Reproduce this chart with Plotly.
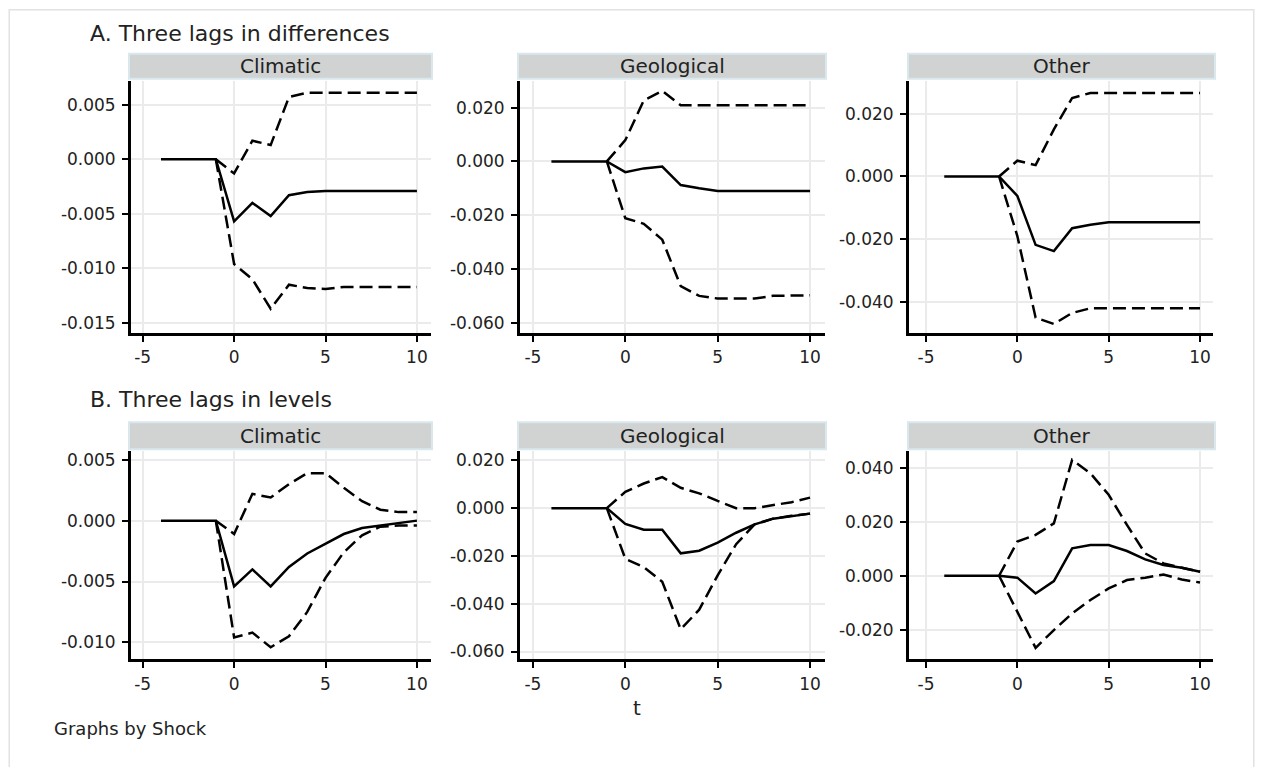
import plotly.graph_objects as go

# The page body adds an 8px margin, so the figure is slightly smaller than the window
OFF = 8
W, H = 1263 - 2 * OFF, 775 - 2 * OFF

# ---------------- data ----------------
t = [-4, -3, -2, -1, 0, 1, 2, 3, 4, 5, 6, 7, 8, 9, 10]
N = None

# Panel A: three lags in differences
a_clim_est = [0, 0, 0, 0, -0.0057, -0.0040, -0.0052, -0.0033, -0.0030, -0.0029, -0.0029, -0.0029, -0.0029, -0.0029, -0.0029]
a_clim_up = [N, N, N, 0, -0.0013, 0.0017, 0.0013, 0.0057, 0.0061, 0.0061, 0.0061, 0.0061, 0.0061, 0.0061, 0.0061]
a_clim_lo = [N, N, N, 0, -0.0096, -0.0110, -0.0137, -0.0115, -0.0118, -0.0119, -0.0117, -0.0117, -0.0117, -0.0117, -0.0117]

a_geo_est = [0, 0, 0, 0, -0.0040, -0.0026, -0.0019, -0.0088, -0.0100, -0.0110, -0.0110, -0.0110, -0.0110, -0.0110, -0.0110]
a_geo_up = [N, N, N, 0, 0.0079, 0.0227, 0.0262, 0.0209, 0.0209, 0.0209, 0.0209, 0.0209, 0.0209, 0.0209, 0.0209]
a_geo_lo = [N, N, N, 0, -0.0211, -0.0232, -0.0291, -0.0464, -0.0500, -0.0510, -0.0510, -0.0510, -0.0500, -0.0498, -0.0498]

a_oth_est = [0, 0, 0, 0, -0.0062, -0.0218, -0.0238, -0.0165, -0.0154, -0.0146, -0.0146, -0.0146, -0.0146, -0.0146, -0.0146]
a_oth_up = [N, N, N, 0, 0.0050, 0.0036, 0.0150, 0.0250, 0.0266, 0.0266, 0.0266, 0.0266, 0.0266, 0.0266, 0.0266]
a_oth_lo = [N, N, N, 0, -0.0190, -0.0450, -0.0470, -0.0435, -0.0420, -0.0420, -0.0420, -0.0420, -0.0420, -0.0420, -0.0420]

# Panel B: three lags in levels
b_clim_est = [0, 0, 0, 0, -0.0054, -0.0040, -0.0054, -0.0038, -0.0027, -0.0019, -0.0011, -0.0006, -0.0004, -0.0002, 0.0]
b_clim_up = [N, N, N, 0, -0.0011, 0.0022, 0.0019, 0.0030, 0.0039, 0.0039, 0.0027, 0.0016, 0.0009, 0.0007, 0.0007]
b_clim_lo = [N, N, N, 0, -0.0096, -0.0092, -0.0104, -0.0095, -0.0075, -0.0047, -0.0026, -0.0012, -0.0005, -0.0004, -0.0004]

b_geo_est = [0, 0, 0, 0, -0.0066, -0.0090, -0.0090, -0.0189, -0.0178, -0.0144, -0.0103, -0.0068, -0.0044, -0.0032, -0.0023]
b_geo_up = [N, N, N, 0, 0.0068, 0.0103, 0.0130, 0.0085, 0.0062, 0.0030, 0.0000, 0.0000, 0.0011, 0.0025, 0.0044]
b_geo_lo = [N, N, N, 0, -0.0212, -0.0247, -0.0308, -0.0507, -0.0425, -0.0281, -0.0151, -0.0068, -0.0044, -0.0032, -0.0023]

b_oth_est = [0, 0, 0, 0, -0.0007, -0.0066, -0.0020, 0.0102, 0.0114, 0.0114, 0.0092, 0.0061, 0.0040, 0.0030, 0.0015]
b_oth_up = [N, N, N, 0, 0.0127, 0.0152, 0.0195, 0.0431, 0.0381, 0.0301, 0.0189, 0.0083, 0.0046, 0.0030, 0.0015]
b_oth_lo = [N, N, N, 0, -0.0134, -0.0268, -0.0202, -0.0140, -0.0090, -0.0047, -0.0016, -0.0007, 0.0005, -0.0014, -0.0025]

shocks = ["Climatic", "Geological", "Other"]
row_titles = ["A. Three lags in differences", "B. Three lags in levels"]

x_ticks = [-5, 0, 5, 10]
y_ticks = [
    [0.005, 0.0, -0.005, -0.010, -0.015],
    [0.020, 0.0, -0.020, -0.040, -0.060],
    [0.020, 0.0, -0.020, -0.040],
    [0.005, 0.0, -0.005, -0.010],
    [0.020, 0.0, -0.020, -0.040, -0.060],
    [0.040, 0.020, 0.0, -0.020],
]

panels = [
    (a_clim_est, a_clim_up, a_clim_lo),
    (a_geo_est, a_geo_up, a_geo_lo),
    (a_oth_est, a_oth_up, a_oth_lo),
    (b_clim_est, b_clim_up, b_clim_lo),
    (b_geo_est, b_geo_up, b_geo_lo),
    (b_oth_est, b_oth_up, b_oth_lo),
]

# ---------------- layout geometry (window pixels) ----------------
col_px = [(131, 431), (520, 825), (909, 1213)]
strip_px = [(129, 432), (518, 826), (908, 1215)]
row_px = [(80, 333), (452, 661)]
strip_row_px = [(53, 78), (423, 450)]
x_ranges = [(-5.64, 10.77), (-5.70, 10.81), (-5.93, 10.71)]
y_ranges = [
    (-0.0159, 0.0072), (-0.0637, 0.0300), (-0.0498, 0.0305),
    (-0.0114, 0.0057), (-0.0633, 0.0238), (-0.0311, 0.0463),
]

def px_x(p):
    return (p - OFF) / W

def px_y(p):
    return 1 - (p - OFF) / H

FONT = "DejaVu Sans"
TXT = "#222222"

fig = go.Figure()
shapes = []
annotations = []

for i, (est, up, lo) in enumerate(panels):
    r, c = divmod(i, 3)
    k = i + 1
    xa = "x" if k == 1 else f"x{k}"
    ya = "y" if k == 1 else f"y{k}"
    for series, dash in ((up, "13px,6px"), (lo, "13px,6px"), (est, "solid")):
        fig.add_trace(go.Scatter(
            x=t, y=series, mode="lines", xaxis=xa, yaxis=ya,
            line=dict(color="black", width=2.5, dash=dash),
            showlegend=False, hoverinfo="skip", connectgaps=False,
        ))
    xd = [px_x(col_px[c][0]), px_x(col_px[c][1])]
    yd = [px_y(row_px[r][1]), px_y(row_px[r][0])]
    common = dict(
        showline=True, linecolor="black", linewidth=2.8,
        ticks="outside", ticklen=6, tickwidth=2.2, tickcolor="black",
        showgrid=True, gridcolor="#ebebeb", gridwidth=2.4,
        zeroline=False, tickfont=dict(family=FONT, size=17, color=TXT),
    )
    fig.layout[("xaxis" if k == 1 else f"xaxis{k}")] = dict(
        domain=xd, anchor=ya, range=list(x_ranges[c]),
        tickvals=x_ticks, ticktext=[str(v) for v in x_ticks],
        ticklabelstandoff=1, **common,
    )
    yt = y_ticks[i]
    fig.layout[("yaxis" if k == 1 else f"yaxis{k}")] = dict(
        domain=yd, anchor=xa, range=list(y_ranges[i]),
        tickvals=yt, ticktext=[f"{v:.3f}" if v != 0 else "0.000" for v in yt],
        ticklabelstandoff=3, **common,
    )
    # strip header
    sx0, sx1 = strip_px[c]
    sy0, sy1 = strip_row_px[r]
    shapes.append(dict(
        type="rect", xref="paper", yref="paper",
        x0=px_x(sx0), x1=px_x(sx1), y0=px_y(sy1), y1=px_y(sy0),
        fillcolor="#d1d2d2", line=dict(color="#d9e8ed", width=2), layer="below",
    ))
    annotations.append(dict(
        xref="paper", yref="paper", x=px_x((sx0 + sx1) / 2), y=px_y((sy0 + sy1) / 2),
        text=shocks[c], showarrow=False, xanchor="center", yanchor="middle",
        font=dict(family=FONT, size=20, color=TXT),
    ))

# row titles
for title, ypx in zip(row_titles, (33, 400)):
    annotations.append(dict(
        xref="paper", yref="paper", x=px_x(88), y=px_y(ypx), text=title,
        showarrow=False, xanchor="left", yanchor="middle",
        font=dict(family=FONT, size=22, color=TXT),
    ))

annotations.append(dict(
    xref="paper", yref="paper", x=px_x(637), y=px_y(710), text="t",
    showarrow=False, xanchor="center", yanchor="middle",
    font=dict(family=FONT, size=20, color=TXT),
))
annotations.append(dict(
    xref="paper", yref="paper", x=px_x(52), y=px_y(730), text="Graphs by Shock",
    showarrow=False, xanchor="left", yanchor="middle",
    font=dict(family=FONT, size=18, color=TXT),
))

# page frame
shapes.append(dict(
    type="rect", xref="paper", yref="paper",
    x0=0.001, x1=0.999, y0=-0.02, y1=0.999,
    line=dict(color="#e2e2e2", width=1.5), fillcolor="rgba(0,0,0,0)", layer="below",
))

fig.update_layout(
    width=W, height=H, margin=dict(l=0, r=0, t=0, b=0),
    paper_bgcolor="white", plot_bgcolor="white",
    shapes=shapes, annotations=annotations, showlegend=False,
)

fig.write_html("out.html")
